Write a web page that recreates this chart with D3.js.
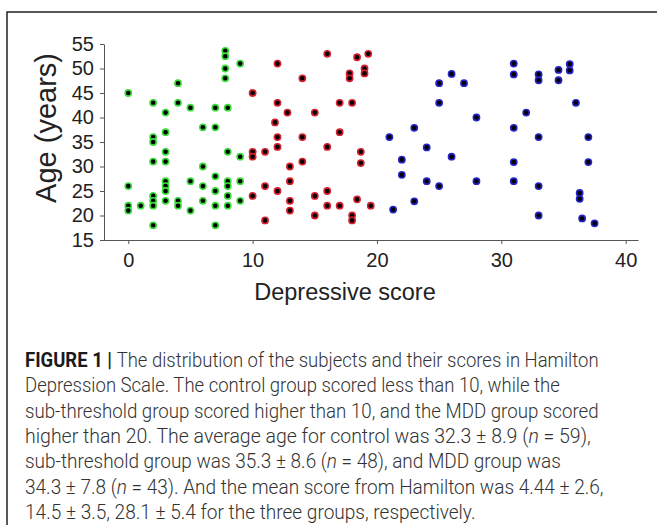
<!DOCTYPE html>
<html>
<head>
<meta charset="utf-8">
<script src="https://cdn.jsdelivr.net/npm/d3@7"></script>
<style>
  body { margin: 0; background: #fff; }
  svg { display: block; }
</style>
</head>
<body>
<script>
var w = 657;
var h = 525;

// [score, age]
var control = [
  [0,45],[0,26],[0,22],[0,21],
  [1,22],
  [2,43],[2,36],[2,35],[2,31],[2,24],[2,23],[2,22],[2,18],
  [3,41],[3,37],[3,33],[3,31],[3,27],[3,26],[3,25],[3,23],
  [4,47],[4,43],[4,23],[4,22],
  [5,42],[5,27],[5,21],
  [6,38],[6,30],[6,26],[6,23],
  [7,42],[7,38],[7,28],[7,25],[7,22],[7,18],
  [7.8,53.6],[7.8,52.5],[7.8,50],[7.8,48],
  [8,42],[8,33],[8,27],[8,26],[8,24],[8,22],
  [9,51],[9,32],[9,27],[9,23]
];
var subThreshold = [
  [10,45],[10,33],[10,32],[10,24],
  [11,33],[11,26],[11,19],
  [11.8,39],
  [12,51],[12,43],[12,36],[12,34],[12,25],
  [12.8,41],
  [13,30],[13,27],[13,23],[13,21],
  [14,48],[14,36],[14,31],
  [15,41],[15,24],[15,20],
  [16,53],[16,34],[16,25],[16,22],
  [17,43],[17,37],[17,22],
  [17.8,49],[17.8,48],
  [18,43],[18,20],[18,19],
  [18.4,52.3],[18.4,23.3],
  [18.7,33],[18.7,30.7],
  [19,50],[19,49],
  [19.3,53],
  [19.5,22]
];
var mdd = [
  [21,36],[21.3,21.2],
  [22,31.4],[22,28.3],
  [23,37.9],[23,22.9],
  [24,33.9],[24,27],
  [25,47],[25,43],[25,26],
  [26,48.9],[26,32],
  [27,47],
  [28,40],[28,27],
  [31,51],[31,48.8],[31,37.9],[31,30.9],[31,27],
  [32,41],
  [33,48.8],[33,47.6],[33,36],[33,26],[33,20],
  [34.6,49.7],[34.6,47.6],
  [35.5,50.9],[35.5,49.6],
  [36,43],
  [36.3,24.6],[36.3,23.4],
  [36.5,19.4],
  [37,36],[37,30.9],
  [37.5,18.4]
];

var xTicks = [0, 10, 20, 30, 40];
var yTicks = [15, 20, 25, 30, 35, 40, 45, 50, 55];

var captionLines = [
  [["b","FIGURE 1 | "],["r","The distribution of the subjects and their scores in Hamilton"]],
  [["r","Depression Scale. The control group scored less than 10, while the"]],
  [["r","sub-threshold group scored higher than 10, and the MDD group scored"]],
  [["r","higher than 20. The average age for control was 32.3 \u00b1 8.9 ("],["i","n"],["r"," = 59),"]],
  [["r","sub-threshold group was 35.3 \u00b1 8.6 ("],["i","n"],["r"," = 48), and MDD group was"]],
  [["r","34.3 \u00b1 7.8 ("],["i","n"],["r"," = 43). And the mean score from Hamilton was 4.44 \u00b1 2.6,"]],
  [["r","14.5 \u00b1 3.5, 28.1 \u00b1 5.4 for the three groups, respectively."]]
];
var captionWidths = [574, 535, 574, 566, 536, 579, 451];

var svg = d3.select("body").append("svg")
            .attr("width", w)
            .attr("height", h);

// frame (only left and top edges show)
svg.append("rect")
   .attr("x", 7).attr("y", 12)
   .attr("width", 720).attr("height", 600)
   .attr("fill", "none")
   .attr("stroke", "#222")
   .attr("stroke-width", 1.5);

var x = d3.scaleLinear().domain([-2, 41]).range([103.4, 638.1]);
var y = d3.scaleLinear().domain([15, 55]).range([240, 44]);

svg.append("g")
   .attr("transform", "translate(0,240)")
   .call(d3.axisBottom(x).tickValues(xTicks).tickSize(4).tickSizeOuter(0).tickPadding(9));
svg.append("g")
   .attr("transform", "translate(104,0)")
   .call(d3.axisLeft(y).tickValues(yTicks).tickSize(4).tickSizeOuter(0).tickPadding(6));

svg.selectAll(".domain, .tick line").attr("stroke", "#555");
svg.selectAll(".tick text")
   .attr("font-family", "Liberation Sans, Arial, sans-serif")
   .attr("font-size", 20)
   .attr("fill", "#222");

// axis titles
svg.append("text")
   .attr("x", 345).attr("y", 300)
   .attr("text-anchor", "middle")
   .attr("font-family", "Liberation Sans, Arial, sans-serif")
   .attr("font-size", 23.5)
   .attr("fill", "#222")
   .text("Depressive score");
svg.append("text")
   .attr("transform", "translate(56,128) rotate(-90)")
   .attr("text-anchor", "middle")
   .attr("font-family", "Liberation Sans, Arial, sans-serif")
   .attr("font-size", 29)
   .attr("fill", "#222")
   .text("Age (years)");

// points
function dots(data, ring) {
  svg.append("g").selectAll("circle")
     .data(data)
     .enter().append("circle")
     .attr("cx", function(d) { return x(d[0]); })
     .attr("cy", function(d) { return y(d[1]); })
     .attr("r", 3.1)
     .attr("fill", "#000")
     .attr("stroke", ring)
     .attr("stroke-width", 1.6);
}
dots(control, "#3ddc3d");
dots(subThreshold, "#d8202e");
dots(mdd, "#2424c8");

// caption, each line squeezed horizontally to the reference width
var cap = svg.append("g")
   .attr("font-family", "Roboto, Liberation Sans, sans-serif")
   .attr("font-size", 20)
   .attr("fill", "#333");
captionLines.forEach(function(parts, i) {
  var t = cap.append("text");
  parts.forEach(function(p) {
    var s = t.append("tspan").text(p[1]);
    if (p[0] == "b") s.attr("font-weight", 700).attr("fill", "#1a1a1a");
    else if (p[0] == "i") s.attr("font-style", "italic").attr("font-weight", 300);
    else s.attr("font-weight", 300);
  });
  var len = t.node().getComputedTextLength();
  t.attr("transform", "translate(25," + (367 + i * 25.3) + ") scale(" + (captionWidths[i] / len) + ",1)");
});
</script>
</body>
</html>
